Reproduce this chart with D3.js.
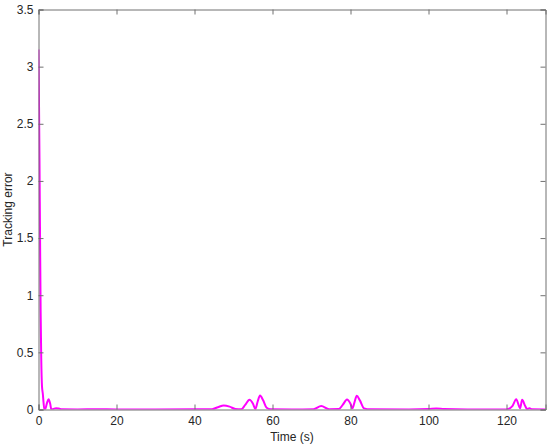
<!DOCTYPE html>
<html><head><meta charset="utf-8">
<script src="https://cdn.jsdelivr.net/npm/d3@7"></script>
<style>body{margin:0;background:#fff}svg{display:block}text{font-family:"Liberation Sans",Arial,sans-serif}</style>
</head><body>
<svg id="c" width="550" height="447"></svg>
<script>
const times = [0,0.1,0.25,0.4,0.55,0.7,0.9,1.1,1.3,1.5,1.8,2.2,2.6,3.0,3.3,3.8,4.5,5.2,6,10,15,20,30,40,44.5,46,47.5,49,50.5,52,53,54.1,55,55.6,56.2,56.8,57.6,58.5,59.5,65,70.5,72.5,74.5,77,78,79.1,80,80.5,81,81.6,82.4,83.5,85,95,100,102,104,110,120,121.5,122.5,123.2,123.5,124,124.8,125.3,125.9,126.5,130];
const errors = [3.15,2.8,2.2,1.5,0.85,0.45,0.2,0.14,0.06,0.0,0.01,0.06,0.09,0.05,0.0,0.005,0.012,0.008,0.002,0.001,0.003,0.001,0.001,0.002,0.003,0.02,0.035,0.025,0.004,0.002,0.04,0.085,0.05,0.005,0.07,0.122,0.08,0.015,0.002,0.001,0.003,0.03,0.003,0.004,0.04,0.087,0.05,0.01,0.06,0.12,0.08,0.01,0.002,0.001,0.004,0.008,0.004,0.001,0.001,0.03,0.09,0.03,0.01,0.085,0.03,0.003,0.012,0.002,0.001];
const xTicks = [0,20,40,60,80,100,120];
const yTicks = [0,0.5,1,1.5,2,2.5,3,3.5];

const svg = d3.select("#c");
const L = 38.5, R = 545.5, T = 9.5, B = 409.5;
const x = d3.scaleLinear().domain([0,130]).range([L,R]);
const y = d3.scaleLinear().domain([0,3.5]).range([B,T]);
const axCol = "#707070", txtCol = "#262626";

svg.append("defs").append("clipPath").attr("id","clip")
  .append("rect").attr("x",L).attr("y",T).attr("width",R-L).attr("height",B-T);

const data = times.map((t,i)=>[t,errors[i]]);
svg.append("path").datum(data)
  .attr("clip-path","url(#clip)")
  .attr("fill","none").attr("stroke","#ff00ff").attr("stroke-width",2)
  .attr("d", d3.line().x(d=>x(d[0])).y(d=>y(d[1])).curve(d3.curveMonotoneX));

const fmt = d => String(d);
const xb = svg.append("g").attr("transform",`translate(0,${B})`)
  .call(d3.axisBottom(x).tickValues(xTicks).tickFormat(fmt).tickSize(-5).tickPadding(7));
const xt = svg.append("g").attr("transform",`translate(0,${T})`)
  .call(d3.axisTop(x).tickValues(xTicks).tickFormat("").tickSize(-5));
const yl = svg.append("g").attr("transform",`translate(${L},0)`)
  .call(d3.axisLeft(y).tickValues(yTicks).tickFormat(fmt).tickSize(-5).tickPadding(5));
const yr = svg.append("g").attr("transform",`translate(${R},0)`)
  .call(d3.axisRight(y).tickValues(yTicks).tickFormat("").tickSize(-5));
[xb,xt,yl,yr].forEach(g=>{
  g.selectAll(".domain").attr("stroke",axCol).attr("stroke-width",1);
  g.selectAll(".tick line").attr("stroke",axCol);
  g.selectAll(".tick text").attr("fill",txtCol).style("font-size","12px");
});

svg.append("text").attr("x",(L+R)/2).attr("y",441).attr("text-anchor","middle")
  .attr("fill",txtCol).style("font-size","12px").text("Time (s)");
svg.append("text").attr("transform",`translate(12,${(T+B)/2}) rotate(-90)`)
  .attr("text-anchor","middle").attr("fill",txtCol).style("font-size","12px").text("Tracking error");
</script>
</body></html>
